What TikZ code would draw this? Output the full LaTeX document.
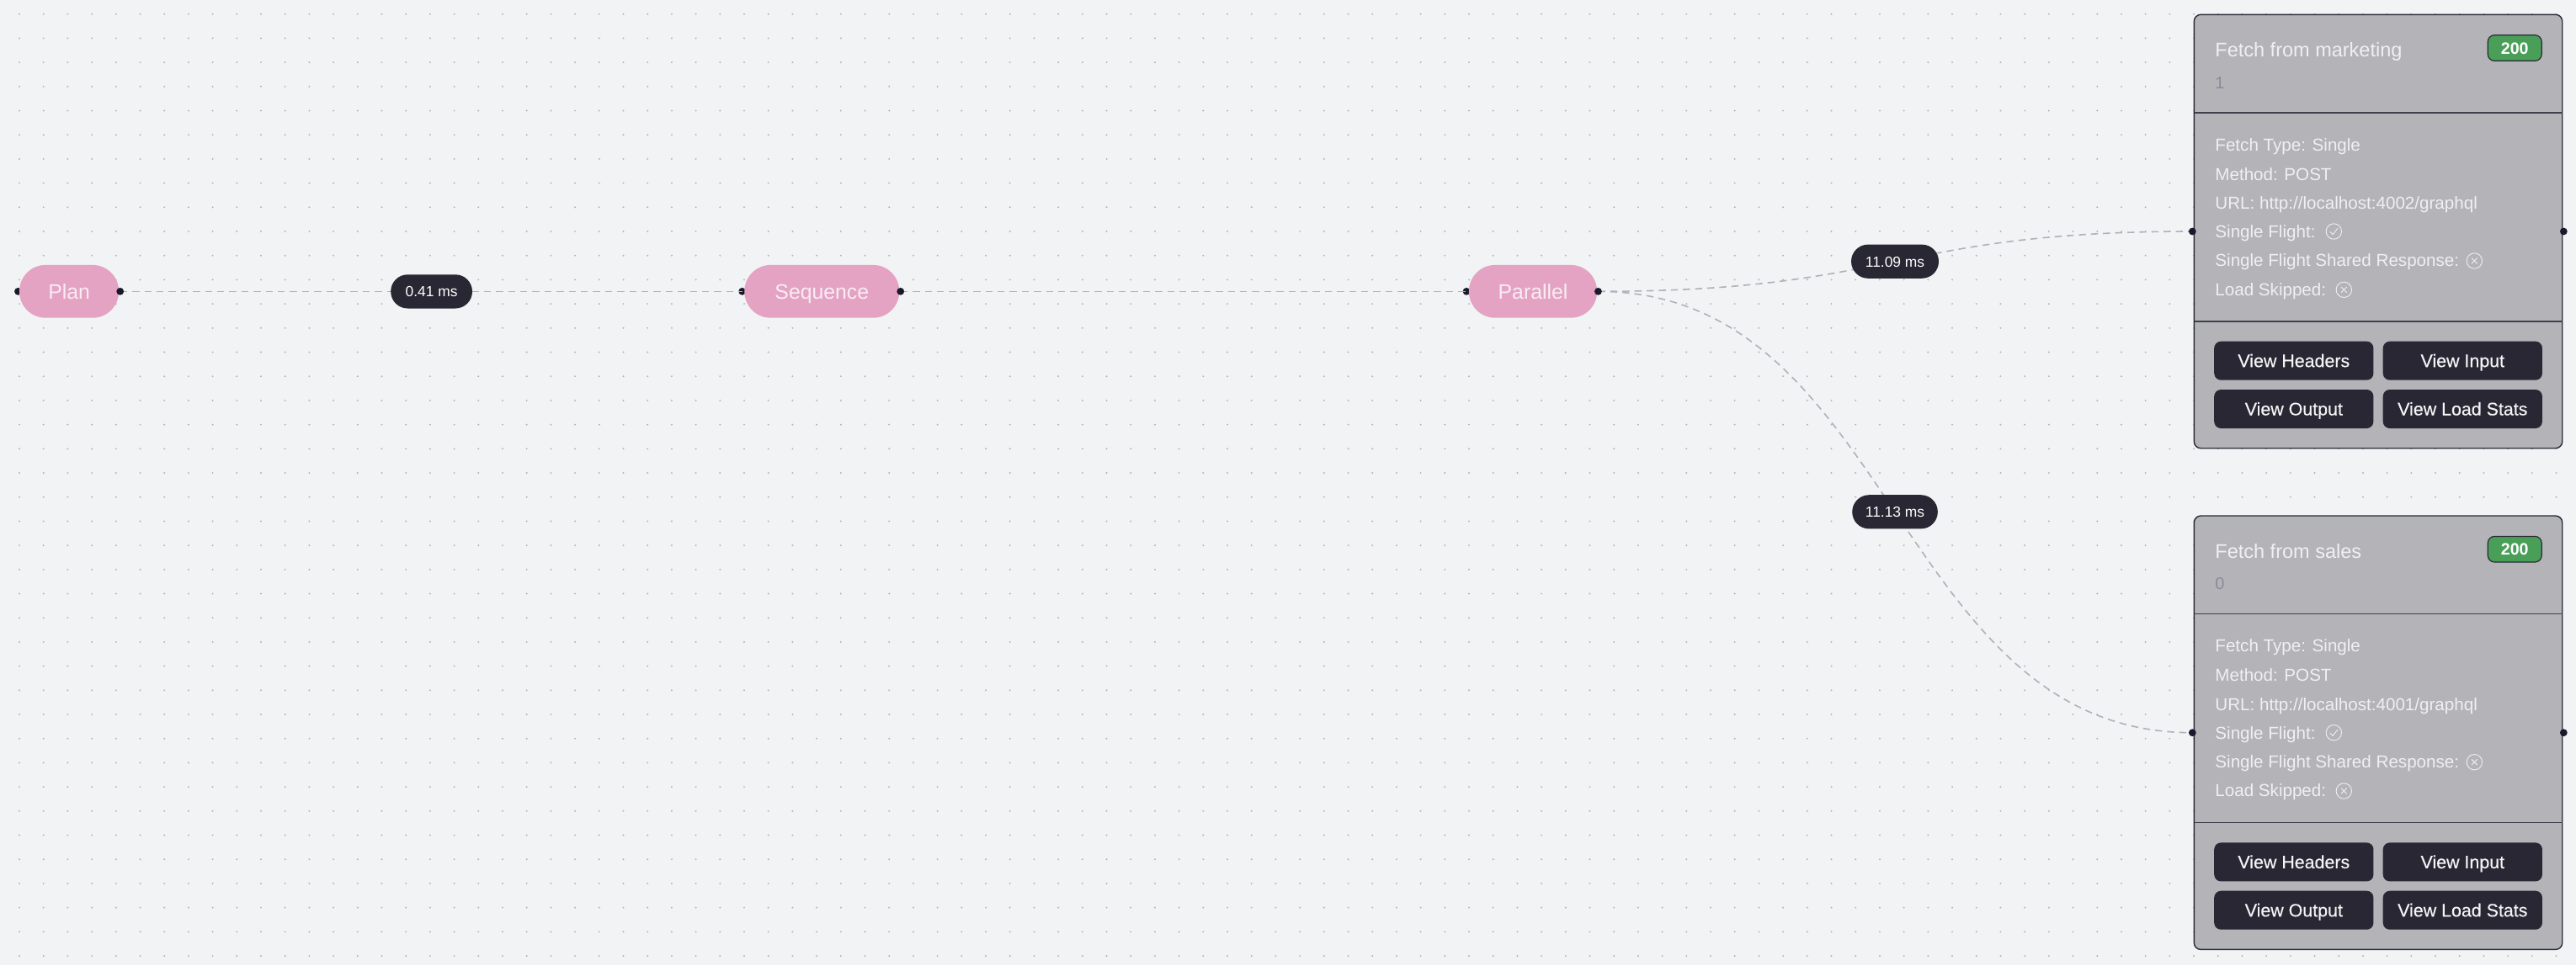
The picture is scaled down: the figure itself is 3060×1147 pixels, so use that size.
\documentclass[tikz,border=0pt]{standalone}
\usepackage{fontspec}
\setmainfont{Liberation Sans}
\newfontfamily\medfont[FakeBold=0.4]{Liberation Sans}
\definecolor{bgc}{HTML}{F1F3F5}
\definecolor{dotc}{HTML}{B5B5B9}
\definecolor{edgec}{HTML}{B1B1B7}
\definecolor{handlec}{HTML}{1A192B}
\definecolor{pillc}{HTML}{E5A3C4}
\definecolor{pilltext}{HTML}{F8ECF3}
\definecolor{darkc}{HTML}{282733}
\definecolor{cardc}{HTML}{B3B3B8}
\definecolor{cardline}{HTML}{2B2B37}
\definecolor{divc}{HTML}{3F3F4B}
\definecolor{cardtext}{HTML}{F0F0F3}
\definecolor{numc}{HTML}{8A8A9E}
\definecolor{greenc}{HTML}{4A9F58}
\tikzset{
  x=0.5pt,y=-0.5pt,
  flowedge/.style={draw=edgec,line width=0.8pt,dash pattern=on 4.2pt off 3pt},
  handle/.style={circle,fill=handlec,draw=none,inner sep=0pt,minimum size=4.4pt},
  pill/.style={rectangle,rounded corners=15.6pt,fill=pillc,text=pilltext,inner sep=0pt,minimum height=31.4pt,text height=9pt,text depth=0.2pt,font=\fontsize{12.4}{14}\selectfont},
  timing/.style={rectangle,rounded corners=10pt,fill=darkc,text=white,inner sep=0pt,minimum height=20.1pt,text height=6.5pt,text depth=0.2pt,font=\fontsize{8.7}{10}\selectfont},
  cardbox/.style={rectangle,rounded corners=4pt,fill=cardc,draw=cardline,line width=0.7pt,inner sep=0pt,minimum width=218.7pt,minimum height=257.7pt},
  carddiv/.style={draw=divc,line width=0.8pt},
  titletext/.style={anchor=base west,inner sep=0pt,text=cardtext,font=\fontsize{11.75}{14}\selectfont},
  numtext/.style={anchor=base west,inner sep=0pt,text=numc,font=\fontsize{10}{12}\selectfont},
  bodytext/.style={anchor=base west,inner sep=0pt,text=cardtext,font=\fontsize{10.3}{12}\selectfont},
  badge/.style={rectangle,rounded corners=4pt,fill=greenc,draw=cardline,line width=0.6pt,text=white,inner sep=0pt,minimum width=32pt,minimum height=15.3pt,text height=7.2pt,text depth=0.2pt,font=\fontsize{9.8}{11}\selectfont\bfseries},
  btn/.style={rectangle,rounded corners=4pt,fill=darkc,text=white!95!darkc,inner sep=0pt,minimum width=94.6pt,minimum height=23pt,text height=7.7pt,text depth=0.2pt,font=\fontsize{10.7}{12}\medfont},
  icon/.style={circle,draw=cardtext,line width=0.45pt,inner sep=0pt,minimum size=9.2pt},
  iconmark/.style={draw=cardtext,line width=0.45pt,line cap=round}
}
\newcommand{\yesicon}[1]{%
  \draw[iconmark] ([shift={(-4.4,0.4)}]#1.center) -- ([shift={(-1.2,3.6)}]#1.center) -- ([shift={(4.6,-3.6)}]#1.center);}
\newcommand{\noicon}[1]{%
  \draw[iconmark] ([shift={(-3.2,-3.2)}]#1.center) -- ([shift={(3.2,3.2)}]#1.center);
  \draw[iconmark] ([shift={(3.2,-3.2)}]#1.center) -- ([shift={(-3.2,3.2)}]#1.center);}
% #1 id, #2 title, #3 number, #4 url, #5 vertical offset (px)
\newcommand{\fetchcard}[5]{%
\begin{scope}[shift={(0,#5)}]
  \node[cardbox] (#1box) at (2825,275) {};
  \draw[carddiv] (2606.5,133.7) -- (3043.5,133.7);
  \draw[carddiv] (2606.5,381.7) -- (3043.5,381.7);
  \node[titletext] (#1title) at (2631,67.3) {#2};
  \node[numtext] (#1num) at (2631,105) {#3};
  \node[badge] (#1badge) at (2987.2,57) {200};
  \node[bodytext] (#1type) at (2631,179) {Fetch Type: Single};
  \node[bodytext] (#1method) at (2631,214) {Method: POST};
  \node[bodytext] (#1url) at (2631,248.3) {URL: #4};
  \node[bodytext] (#1sf) at (2631,282.3) {Single Flight:};
  \node[icon] (#1sfi) at (2772.3,275) {};
  \yesicon{#1sfi}
  \node[bodytext] (#1sr) at (2631,316.8) {Single Flight Shared Response:};
  \node[icon] (#1sri) at (2939.3,310) {};
  \noicon{#1sri}
  \node[bodytext] (#1ls) at (2631,351) {Load Skipped:};
  \node[icon] (#1lsi) at (2784.3,344.3) {};
  \noicon{#1lsi}
  \node[btn] (#1b1) at (2724.8,428.7) {View Headers};
  \node[btn] (#1b2) at (2925.3,428.7) {View Input};
  \node[btn] (#1b3) at (2724.8,486) {View Output};
  \node[btn] (#1b4) at (2925.3,486) {View Load Stats};
  \node[handle] (#1L) at (2604.3,275) {};
  \node[handle] (#1R) at (3045.3,275) {};
\end{scope}}
\begin{document}
\begin{tikzpicture}
\useasboundingbox (0,0) rectangle (3060,1147);
\fill[bgc] (0,0) rectangle (3060,1147);
% background dot grid
\foreach \i in {0,...,106}{
  \foreach \j in {0,...,39}{
    \fill[dotc] ({23+28.7*\i},{16.7+28.7*\j}) circle (0.55pt);
  }
}
% left handles sit under the pills
\node[handle] (planL) at (21.5,346.3) {};
\node[handle] (seqL) at (881.7,346.3) {};
\node[handle] (parL) at (1742,346.3) {};
\coordinate (planRc) at (142.7,346.3);
\coordinate (seqRc) at (1069.7,346.3);
\coordinate (parRc) at (1898.4,346.3);
\coordinate (c1L) at (2604.3,275);
\coordinate (c2L) at (2604.3,870.7);
% edges
\draw[flowedge] (planRc) -- (seqL.center);
\draw[flowedge] (seqRc) -- (parL.center);
\draw[flowedge] (parRc) .. controls (2251,346.3) and (2251,275) .. (c1L);
\draw[flowedge] (parRc) .. controls (2251,346.3) and (2251,870.7) .. (c2L);
% pills
\node[pill,minimum width=59.1pt] (plan) at (82.1,346.3) {Plan};
\node[pill,minimum width=92pt] (seq) at (976.3,346.3) {Sequence};
\node[pill,minimum width=76.1pt] (par) at (1821,346.3) {Parallel};
\node[handle] (planR) at (planRc) {};
\node[handle] (seqR) at (seqRc) {};
\node[handle] (parR) at (parRc) {};
% timing labels
\node[timing,minimum width=48.4pt] (t1) at (512.6,346.4) {0.41 ms};
\node[timing,minimum width=52pt] (t2) at (2251,310.7) {11.09 ms};
\node[timing,minimum width=50.8pt] (t3) at (2251,608.3) {11.13 ms};
% cards
\fetchcard{cA}{Fetch from marketing}{1}{http://localhost:4002/graphql}{0}
\fetchcard{cB}{Fetch from sales}{0}{http://localhost:4001/graphql}{595.7}
\end{tikzpicture}
\end{document}
